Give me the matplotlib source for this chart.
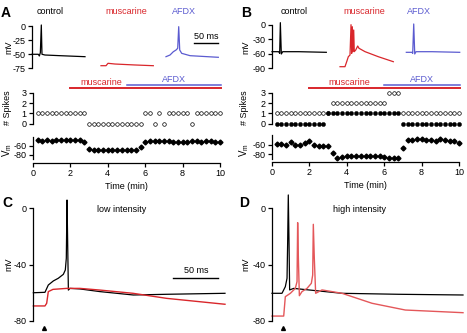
import matplotlib
matplotlib.use('Agg')
import matplotlib.pyplot as plt
import numpy as np
from matplotlib.transforms import blended_transform_factory as btf

plt.rcParams['font.family'] = ['Liberation Sans', 'DejaVu Sans']
plt.rcParams['mathtext.default'] = 'regular'

# ---------------- data ----------------
# Panel A/B example traces (time in ms, voltage in mV)
A_ctrl_t = [0, 13.2, 15.3, 17.4, 19.4, 20.8, 27, 58.3, 110.4]
A_ctrl_v = [-50.5, -50.5, -53.6, -47.6, 1.8, -50.5, -51.8, -53, -54.8]
A_musc_t = [143.7, 154.2, 158.3, 172.9, 214.5, 252.7]
A_musc_v = [-70.9, -70.9, -66.6, -67.9, -69.6, -70.9]
A_afdx_t = [279.1, 287.5, 294.4, 300, 303.5, 305.6, 307.7, 311.8, 329.2, 388.1]
A_afdx_v = [-54.8, -51.8, -45.9, -42.9, -39.8, -1.2, -42.9, -48.8, -53, -55.9]

B_ctrl_t = [0, 13.9, 16, 17.4, 19.4, 22.3, 55.6, 113.1]
B_ctrl_v = [-56.1, -56.1, -59.5, 4.2, -60.9, -56.1, -56.1, -57.4]
B_musc_t = [141.7, 152, 155.6, 159, 162.5, 164.6, 166, 167.3, 168.7, 170.2, 171.4,
            174.4, 178.5, 181.2, 193.7, 221.4, 252.7]
B_musc_v = [-87.3, -87.3, -76.9, -66.5, -63, 0, -59.5, -4.2, -56, -11, -56,
            -52.6, -44.3, -49, -56, -66.5, -76.9]
B_afdx_t = [279.8, 291.6, 293.1, 295.2, 297.3, 300, 333.3, 391]
B_afdx_v = [-57.4, -57.4, -59.5, 1.5, -60.9, -56.1, -56.1, -57.4]

# Time courses (min)
time_min = np.arange(0.25, 10.01, 0.25)
A_spk_open = [1, 1, 1, 1, 1, 1, 1, 1, 1, 1, 1,
              0, 0, 0, 0, 0, 0, 0, 0, 0, 0, 0, 0,
              1, 1, 0, 1, 0, 1, 1, 1, 1, 1, 0, 1, 1, 1, 1, 1, 1]
A_vm = [-47.5, -49.5, -46, -49.5, -47.5, -47.5, -47.5, -46, -47.5, -47.5, -52,
        -67, -68, -68, -68, -68, -68, -68, -68, -68, -68, -68, -63,
        -52, -49.5, -48, -49.5, -49.5, -50, -51, -51, -51, -51, -50, -49.5, -51,
        -49.5, -49.5, -51, -52]
B_spk_open = [1] * 11 + [1] + [2] * 12 + [3] * 3 + [1] * 13
B_spk_filled = [0] * 11 + [1] * 16 + [0] * 13
B_vm = [-58, -58, -61, -54, -61, -60, -57, -53, -60, -62, -63.5, -63.5,
        -78, -88, -86.5, -85, -85, -85, -85, -85, -84, -84, -85, -86.5,
        -88, -88, -88, -67, -50.5, -50.5, -48, -48, -49, -50.5, -52.5, -48,
        -50.5, -52.5, -52.5, -56]
A_musc_start, A_afdx_start, A_end = 2, 5, 10.05
B_musc_start, B_afdx_start, B_end = 2, 6, 10.05

# Panel C/D traces
C_ctrl_t = [0.4, 13.3, 17, 22.6, 28.1, 33.7, 35.9, 37, 37.8, 38.5, 39.3, 41.1, 52.2, 74.4, 111.4, 148.5, 213.3]
C_ctrl_v = [-60.1, -59.8, -54.6, -51.7, -49.8, -47, -43.9, -35.6, 5.9, -23.8, -58.2, -57, -57.4, -59.3, -61.7, -61.2, -60.5]
C_musc_t = [0.4, 13.3, 15.2, 17, 22.2, 37.4, 52.2, 74.4, 111.1, 148.5, 213.3]
C_musc_v = [-69.5, -69.5, -67.6, -59.3, -57.7, -57, -57, -58.2, -60.5, -64.1, -68.3]
D_ctrl_t = [0, 11.1, 14.8, 16.7, 17.4, 18.1, 18.9, 19.6, 24.1, 40.7, 77.8, 140.7, 212.2]
D_ctrl_v = [-60.5, -60.5, -55.8, -49.8, -23.8, 9.5, -23.8, -58.1, -57, -58.1, -60.5, -61.2, -61.7]
D_musc_t = [0, 13, 14.8, 20.4, 25.9, 27.8, 28.5, 29.3, 30.4, 33.3, 38.9, 43.7, 45.2, 45.9, 47,
            48.5, 55.6, 77.8, 111.1, 148.1, 212.2]
D_musc_v = [-76.7, -76.7, -62.9, -60.5, -57, -52.2, -10.2, -35.6, -62.2, -59.3, -57, -53.4, -47.5,
            -11.4, -35.6, -60.5, -58.1, -60.5, -67.6, -72.4, -74.3]
C_stim, D_stim = 12.6, 12.2

RED = '#d9262b'
RED_L = '#e4575a'
BLUE = '#5b5bd0'

# ---------------- figure ----------------
W, H = 467, 333
fig = plt.figure(figsize=(W / 100, H / 100), dpi=100)


def ax_px(l, t, r, b):
    return fig.add_axes([l / W, 1 - b / H, (r - l) / W, (b - t) / H])


def ftext(x, y, s, **kw):
    kw.setdefault('ha', 'center')
    kw.setdefault('va', 'center')
    fig.text(x / W, 1 - y / H, s, **kw)


def style(ax, left=True, bottom=False):
    for s in ['top', 'right']:
        ax.spines[s].set_visible(False)
    ax.spines['left'].set_visible(left)
    ax.spines['bottom'].set_visible(bottom)
    for s in ['left', 'bottom']:
        ax.spines[s].set_linewidth(0.9)
    ax.tick_params(direction='out', length=3, width=0.9, labelsize=6.5, pad=1.5)
    if not bottom:
        ax.set_xticks([])
    if not left:
        ax.set_yticks([])
    ax.patch.set_alpha(0)


FS = 6.5

# ---- A/B trace axes ----
for (l, t, r, b, yl, yt, traces, name) in [
        (32, 26, 220, 68, (-75, 0), [0, -25, -50, -75],
         [(A_ctrl_t, A_ctrl_v, 'black'), (A_musc_t, A_musc_v, RED), (A_afdx_t, A_afdx_v, BLUE)], 'A'),
        (272, 24.7, 460, 68, (-90, 0), [0, -30, -60, -90],
         [(B_ctrl_t, B_ctrl_v, 'black'), (B_musc_t, B_musc_v, RED), (B_afdx_t, B_afdx_v, BLUE)], 'B')]:
    ax = ax_px(l, t, r, b)
    style(ax)
    ax.set_xlim(0, (r - l) * 2.083)
    ax.set_ylim(*yl)
    ax.set_yticks(yt)
    ax.set_yticklabels([str(v) for v in yt])
    for tt, vv, c in traces:
        ax.plot(tt, vv, color=c, lw=0.9, clip_on=False)
    if name == 'A':
        ax.plot([338, 388], [-31, -31], color='black', lw=1, clip_on=False)
        ax.text(363, -26, '50 ms', ha='center', va='bottom', fontsize=FS)

# titles
ftext(6, 13, 'A', fontsize=10, fontweight='bold')
ftext(246, 13, 'B', fontsize=10, fontweight='bold')
ftext(50, 12, 'control', fontsize=FS)
ftext(126, 12, 'muscarine', fontsize=FS, color=RED)
ftext(184, 12, 'AFDX', fontsize=FS, color=BLUE)
ftext(294, 12, 'control', fontsize=FS)
ftext(364, 12, 'muscarine', fontsize=FS, color=RED)
ftext(419, 12, 'AFDX', fontsize=FS, color=BLUE)
ftext(9, 47, 'mV', fontsize=FS, rotation=90)
ftext(246, 47, 'mV', fontsize=FS, rotation=90)

# ---- spikes / Vm time courses ----
for (l, r, vm_top, vm_bot, open_, filled, vm, ms, ae, me, xlab) in [
        (33, 220, 137, 159.5, A_spk_open, None, A_vm, A_musc_start, A_afdx_start, A_end, 7),
        (272, 459, 135.4, 158.7, B_spk_open, B_spk_filled, B_vm, B_musc_start, B_afdx_start, B_end, 244)]:
    axs = ax_px(l, 93, r, 123.7)
    style(axs)
    axs.set_xlim(0, 10)
    axs.set_ylim(0, 3)
    axs.set_yticks([0, 1, 2, 3])
    axs.plot(time_min, open_, 'o', ms=2.6, mfc='white', mec='black', mew=0.5, clip_on=False, ls='none')
    if filled is not None:
        axs.plot(time_min, filled, 'o', ms=3.0, mfc='black', mec='black', mew=0.3, clip_on=False, ls='none')
    tr = btf(axs.transData, axs.transAxes)
    axs.plot([ms, me], [1.163, 1.163], color=RED, lw=1.4, transform=tr, clip_on=False)
    axs.plot([ae, me], [1.26, 1.26], color=BLUE, lw=1.1, transform=tr, clip_on=False)
    axs.text((ms + ae) / 2 + 0.15, 1.335, 'muscarine', color=RED,
             fontsize=FS, ha='center', va='center', transform=tr)
    axs.text((ae + me) / 2, 1.43, 'AFDX', color=BLUE, fontsize=FS, ha='center', va='center', transform=tr)

    axv = ax_px(l, vm_top, r, vm_bot)
    style(axv, bottom=True)
    axv.spines['bottom'].set_position(('outward', 2.5))
    axv.set_xlim(0, 10)
    axv.set_ylim(-90, -40)
    axv.set_yticks([-60, -80])
    axv.set_yticklabels(['-60', '-80'])
    axv.set_xticks([0, 2, 4, 6, 8, 10])
    axv.plot(time_min, vm, 'D', ms=2.5, color='black', clip_on=False, ls='none')
    axv.set_xlabel('Time (min)', fontsize=FS, labelpad=2.5)

    ftext(xlab + 1, 108, '# Spikes', fontsize=FS, rotation=90)
    ftext(xlab, 150, 'V$_m$', fontsize=FS + 0.5, rotation=90)

# ---- C / D ----
for (l, r, name, title, ctrl, musc, stim, rcol, bar) in [
        (33, 225, 'C', 'low intensity', (C_ctrl_t, C_ctrl_v), (C_musc_t, C_musc_v), C_stim, RED, True),
        (272, 463, 'D', 'high intensity', (D_ctrl_t, D_ctrl_v), (D_musc_t, D_musc_v), D_stim, RED_L, False)]:
    ax = ax_px(l, 208.3, r, 320.7)
    style(ax)
    ax.set_xlim(0, (r - l) * 1.111)
    ax.set_ylim(-80, 0)
    ax.set_yticks([0, -40, -80])
    ax.set_yticklabels(['0', '-40', '-80'])
    ax.plot(*ctrl, color='black', lw=0.9, clip_on=False)
    ax.plot(*musc, color=rcol, lw=1.0, clip_on=False)
    ax.plot([stim], [-85], marker='^', ms=2.8, color='black', clip_on=False, ls='none')
    ax.text(0.46, 0.985, title, transform=ax.transAxes, fontsize=FS, ha='center', va='center')
    if bar:
        ax.plot([156, 206], [-49.8, -49.8], color='black', lw=1, clip_on=False)
        ax.text(181, -47.5, '50 ms', ha='center', va='bottom', fontsize=FS)
    x0 = 7 if name == 'C' else 244
    ftext(x0, 203, name, fontsize=10, fontweight='bold')
    ftext(8.5 if name == 'C' else 246, 264, 'mV', fontsize=FS, rotation=90)

fig.savefig('out.png', dpi=100)
